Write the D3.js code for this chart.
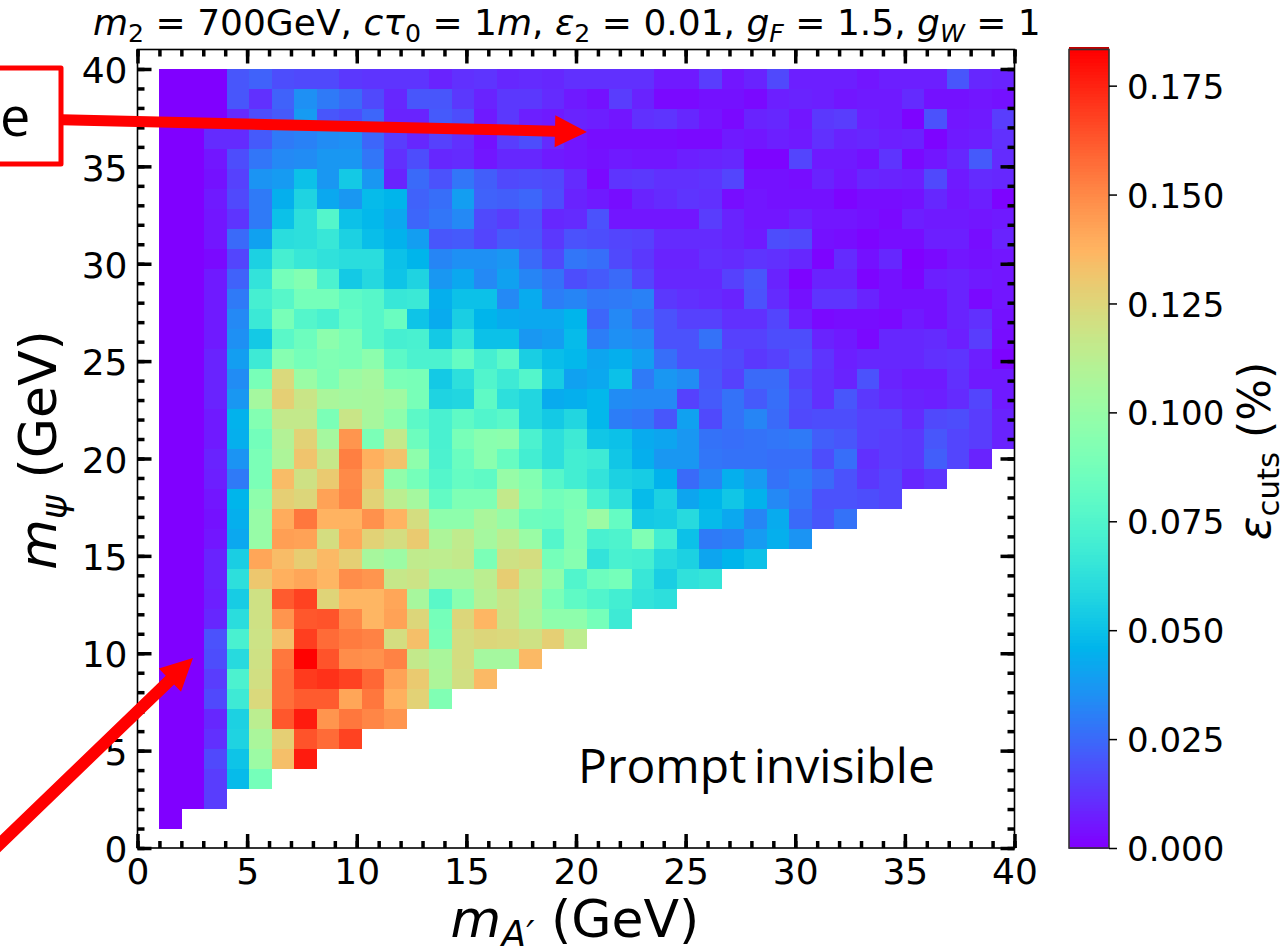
<!DOCTYPE html>
<html>
<head>
<meta charset="utf-8">
<style>
  html, body { margin: 0; padding: 0; background: #fff; overflow: hidden; }
  text { font-family: "DejaVu Sans", sans-serif; fill: #000; }
  .note { font-family: "Open Sans", sans-serif; }
</style>
</head>
<body>
<div id="svg-container"></div>
<script src="https://cdn.jsdelivr.net/npm/d3@7"></script>
<script>
//efficiency in units of 0.001 %, top row (m_psi near 40) first, lowest m_A' first
var cutsTop = [
  [0,0,0,20,23,18,17,17,13,12,12,12,8,11,12,9,10,9,11,11,11,11,6,6,14,5,8,17,7,7,7,5,7,7,7,20,9,8],
  [0,0,0,20,11,23,35,29,25,17,9,20,20,13,8,13,13,10,6,4,14,8,2,2,4,4,2,7,8,7,5,6,6,10,4,4,5,4],
  [0,0,0,10,18,21,38,20,18,24,8,8,21,18,6,13,7,6,8,7,5,11,12,9,5,2,8,9,5,13,14,7,6,1,19,5,6,14],
  [0,0,10,10,21,29,31,34,35,24,14,9,15,11,4,14,18,10,5,3,3,3,3,2,2,6,5,7,6,11,8,9,7,8,1,6,7,11],
  [0,0,5,18,28,33,34,37,37,28,11,18,9,10,5,9,9,6,5,4,6,5,5,7,8,9,1,1,16,6,6,4,12,2,5,9,21,10],
  [0,0,4,15,36,38,50,37,53,37,8,25,19,28,22,17,18,17,10,2,12,13,11,11,12,16,4,4,3,8,5,9,8,7,17,6,10,9],
  [0,0,6,17,29,44,57,42,37,48,46,23,26,39,23,22,24,18,8,6,3,8,10,12,11,3,5,4,4,4,1,3,3,4,9,5,7,1],
  [0,0,5,12,29,50,62,76,50,47,42,24,28,33,17,14,19,9,10,19,5,5,5,5,14,8,5,5,8,5,5,4,2,7,6,6,5,6],
  [0,0,5,25,40,61,62,66,56,49,45,39,20,21,16,21,20,13,19,18,16,15,10,10,10,8,6,18,17,4,3,1,3,3,7,7,3,8],
  [0,0,2,16,56,71,66,63,61,61,50,46,32,35,35,37,25,17,28,26,17,13,8,8,11,10,12,11,9,1,10,4,9,0,2,5,4,5],
  [0,0,6,23,64,88,93,73,53,59,51,57,37,42,33,40,32,27,18,21,25,16,9,9,9,15,20,8,1,8,8,1,4,1,7,8,6,5],
  [0,0,6,29,71,77,88,88,80,77,66,67,44,50,50,33,43,30,32,28,29,31,13,11,10,8,19,10,4,12,12,8,4,4,4,8,2,5],
  [0,0,6,33,67,89,76,72,82,77,84,51,43,55,46,43,42,42,46,24,33,26,19,15,15,11,11,16,7,2,3,3,2,6,4,8,11,4],
  [0,0,6,35,53,78,85,96,90,77,71,72,53,65,50,50,37,39,48,30,35,33,19,19,27,15,15,18,18,8,6,2,9,9,10,7,14,3],
  [0,0,8,39,68,94,88,92,90,96,79,73,73,82,71,79,55,49,47,41,44,39,26,19,19,17,13,15,19,12,7,9,9,9,11,12,7,1],
  [0,0,8,34,89,124,101,91,102,105,90,89,53,62,75,68,76,54,40,42,50,29,37,34,20,15,25,25,15,11,8,19,8,6,6,11,6,6],
  [0,0,8,37,105,128,118,107,105,106,103,89,57,58,80,62,58,43,44,47,34,33,33,15,21,27,21,26,18,11,20,13,10,8,7,10,16,6],
  [0,0,6,45,93,116,116,90,118,106,97,79,72,80,75,78,58,53,58,47,30,28,20,40,17,27,32,25,17,18,18,15,15,10,17,18,14,8],
  [0,0,6,44,87,110,127,105,147,90,116,85,72,89,95,96,73,62,68,52,50,43,41,37,27,26,27,28,29,22,20,15,14,13,20,16,14,8]
];

//rows below the top block lose two cells each, lower right stays empty
var cutsBottom = [
  [0,0,8,36,90,108,132,117,153,139,133,97,73,84,95,83,70,62,70,68,52,44,37,37,28,27,27,26,26,18,26,11,14,13,22,16,8],
  [0,0,7,29,90,135,120,130,150,133,98,88,76,82,80,100,93,77,70,64,56,54,45,25,32,44,38,27,30,25,19,13,16,9,12],
  [0,0,5,46,97,128,125,143,151,127,113,105,81,91,91,116,95,87,90,72,62,48,56,41,46,52,45,33,28,19,19,18,16],
  [0,0,4,44,100,140,155,138,138,148,138,122,97,97,107,100,85,84,92,102,82,53,54,60,48,42,32,43,25,20,27],
  [0,0,5,42,100,144,143,122,141,127,122,130,108,115,105,113,101,76,92,72,74,92,70,50,29,31,38,44,36],
  [0,0,8,55,142,135,129,136,128,106,102,115,114,116,90,120,122,88,94,64,72,71,60,56,41,46,50],
  [0,0,8,62,131,139,142,137,149,147,117,119,106,106,113,129,114,98,75,85,88,66,55,63,65],
  [0,0,7,54,120,162,168,126,137,137,142,106,78,95,111,118,110,90,80,75,70,64,62],
  [0,0,9,61,120,147,163,164,150,137,143,125,88,125,137,119,108,97,97,88,68],
  [0,0,19,72,119,134,169,158,154,152,122,134,90,122,125,124,120,128,114],
  [0,0,18,60,120,155,183,164,149,148,152,116,107,122,105,105,136],
  [0,0,14,73,121,157,170,172,168,159,143,130,108,121,136],
  [0,0,17,68,124,157,162,162,142,155,139,127,92],
  [0,0,9,56,113,163,177,147,155,151,147],
  [0,0,11,57,107,128,164,158,168],
  [0,0,17,51,102,134,177],
  [0,0,14,48,88],
  [0,0,14],
  [0]
];

var cutsRows = cutsTop.concat(cutsBottom);

var xMajor = [0, 5, 10, 15, 20, 25, 30, 35, 40];
var yMajor = [0, 5, 10, 15, 20, 25, 30, 35, 40];
var minorTicks = d3.range(0, 41);
var colorTicks = [0, 0.025, 0.05, 0.075, 0.1, 0.125, 0.15, 0.175];
var colorMax = 0.1833;
var gridLow = 1;
var gridHigh = 40;
var gridCount = 38;

//the annotations, ends given in axis units
var arrows = [
  { from: [-3.45, 37.39], to: [20.5, 36.77], width: 11 },
  { from: [-6.7, -0.25], to: [2.53, 9.76], width: 12 }
];

var svg = d3
  .select("#svg-container")
  .append("svg")
  .attr("width", 1285)
  .attr("height", 946)
  .style("display", "block");

var x = d3.scaleLinear().domain([0, 40]).range([137.5, 1014.5]);
var y = d3.scaleLinear().domain([0, 41]).range([848, 49.5]);
var cbY = d3.scaleLinear().domain([0, colorMax]).range([848, 49.5]);

//same formula as matplotlib's "rainbow" map
function rainbow(t) {
  var r = Math.min(1, Math.abs(2 * t - 0.5));
  var g = Math.sin(Math.PI * t);
  var b = Math.cos((Math.PI * t) / 2);
  return d3.rgb(r * 255, g * 255, b * 255).formatHex();
}

var edge = d3
  .scaleLinear()
  .domain([0, gridCount])
  .range([gridLow, gridHigh]);

//the heat map
var cells = [];
cutsRows.forEach(function (row, i) {
  row.forEach(function (v, j) {
    cells.push({ row: gridCount - 1 - i, col: j, value: v / 1000 });
  });
});

svg
  .append("g")
  .attr("class", "cells")
  .attr("shape-rendering", "crispEdges")
  .selectAll("rect")
  .data(cells)
  .enter()
  .append("rect")
  .attr("x", (d) => x(edge(d.col)))
  .attr("y", (d) => y(edge(d.row + 1)))
  .attr("width", (d) => x(edge(d.col + 1)) - x(edge(d.col)))
  .attr("height", (d) => y(edge(d.row)) - y(edge(d.row + 1)))
  .attr("fill", (d) => rainbow(d.value / colorMax));

//ticks on all four sides, pointing in
function drawAxis(axis, translate, tickValues, size, labels) {
  var g = svg
    .append("g")
    .attr("transform", translate)
    .call(
      axis
        .tickValues(tickValues)
        .tickSize(size)
        .tickPadding(10)
        .tickFormat(labels ? d3.format("d") : "")
    );
  g.select(".domain").remove();
  g.selectAll("line").attr("stroke", "#000").attr("stroke-width", size > 10 ? 4 : 3.5);
  g.selectAll("text").attr("font-size", 36);
  return g;
}

var bottomY = "translate(0,848)";
var topY = "translate(0,49.5)";
var leftX = "translate(137.5,0)";
var rightX = "translate(1014.5,0)";

drawAxis(d3.axisBottom(x), bottomY, minorTicks, -7, false);
drawAxis(d3.axisTop(x), topY, minorTicks, -7, false);
drawAxis(d3.axisLeft(y), leftX, minorTicks, -7, false);
drawAxis(d3.axisRight(y), rightX, minorTicks, -7, false);
drawAxis(d3.axisTop(x), topY, xMajor, -14, false);
drawAxis(d3.axisRight(y), rightX, yMajor, -14, false);

var xAxis = drawAxis(d3.axisBottom(x), bottomY, xMajor, -14, true);
xAxis.selectAll("text").attr("y", 10).attr("dy", "0.71em");
var yAxis = drawAxis(d3.axisLeft(y), leftX, yMajor, -14, true);
yAxis.selectAll("text").attr("x", -10).attr("dy", "0.38em");

svg
  .append("rect")
  .attr("x", 137.5)
  .attr("y", 49.5)
  .attr("width", 877)
  .attr("height", 798.5)
  .attr("fill", "none")
  .attr("stroke", "#000")
  .attr("stroke-width", 1.6);

//text with italics and subscripts, parts are [string, "i" italic, "s" subscript]
function rich(sel, parts, size) {
  var shift = 0;
  parts.forEach(function (p) {
    var sub = p[1].indexOf("s") >= 0;
    var drop = sub ? size * 0.2 : 0;
    sel
      .append("tspan")
      .attr("dy", drop - shift)
      .attr("font-size", sub ? size * 0.7 : size)
      .attr("font-style", p[1].indexOf("i") >= 0 ? "italic" : "normal")
      .text(p[0]);
    shift = drop;
  });
}

rich(
  svg.append("text").attr("x", 93).attr("y", 35),
  [
    ["m", "i"], ["2", "s"], [" = 700GeV, ", ""],
    ["cτ", "i"], ["0", "s"], [" = 1", ""], ["m", "i"], [", ", ""],
    ["ε", "i"], ["2", "s"], [" = 0.01, ", ""],
    ["g", "i"], ["F", "is"], [" = 1.5, ", ""],
    ["g", "i"], ["W", "is"], [" = 1", ""]
  ],
  36
);

rich(
  svg.append("text").attr("x", 575).attr("y", 937).attr("text-anchor", "middle"),
  [["m", "i"], ["A′", "is"], [" (GeV)", ""]],
  52
);

rich(
  svg
    .append("text")
    .attr("text-anchor", "middle")
    .attr("transform", "translate(56,450) rotate(-90)"),
  [["m", "i"], ["ψ", "is"], [" (GeV)", ""]],
  52
);

//the colour bar
var levels = d3.range(0, 256);
var cb = svg.append("g").attr("class", "colorbar");
cb.append("g")
  .attr("shape-rendering", "crispEdges")
  .selectAll("rect")
  .data(levels)
  .enter()
  .append("rect")
  .attr("x", 1069)
  .attr("width", 40)
  .attr("y", (d) => cbY(((d + 1) / 256) * colorMax))
  .attr("height", (d) => cbY((d / 256) * colorMax) - cbY(((d + 1) / 256) * colorMax) + 0.6)
  .attr("fill", (d) => rainbow(d / 255));

cb.append("rect")
  .attr("x", 1069)
  .attr("y", 47)
  .attr("width", 40)
  .attr("height", 2.5)
  .attr("fill", "#c00000");

cb.append("rect")
  .attr("x", 1069)
  .attr("y", 49.5)
  .attr("width", 40)
  .attr("height", 798.5)
  .attr("fill", "none")
  .attr("stroke", "#333")
  .attr("stroke-width", 1.6);

var cbAxis = svg
  .append("g")
  .attr("transform", "translate(1109,0)")
  .call(
    d3
      .axisRight(cbY)
      .tickValues(colorTicks)
      .tickSize(8)
      .tickPadding(10)
      .tickFormat(d3.format(".3f"))
  );
cbAxis.select(".domain").remove();
cbAxis.selectAll("line").attr("stroke", "#000").attr("stroke-width", 1.5);
cbAxis.selectAll("text").attr("font-size", 34).attr("dy", "0.37em");

rich(
  svg
    .append("text")
    .attr("text-anchor", "middle")
    .attr("transform", "translate(1270,451) rotate(-90)"),
  [["ε", "i"], ["cuts", "s"], [" (%)", ""]],
  44
);

//the labels and arrows on top of the plot
svg
  .append("text")
  .attr("class", "note")
  .attr("x", 578)
  .attr("y", 783)
  .attr("font-size", 48)
  .attr("word-spacing", -5)
  .text("Prompt invisible");

svg
  .append("path")
  .attr("d", "M-10,68 H61 V164 H-10")
  .attr("fill", "#fff")
  .attr("stroke", "#f00")
  .attr("stroke-width", 5)
  .attr("stroke-linejoin", "round");

svg
  .append("text")
  .attr("class", "note")
  .attr("x", 0)
  .attr("y", 136)
  .attr("font-size", 54)
  .text("e");

arrows.forEach(function (a) {
  var x0 = x(a.from[0]);
  var y0 = y(a.from[1]);
  var x1 = x(a.to[0]);
  var y1 = y(a.to[1]);
  var len = Math.hypot(x1 - x0, y1 - y0);
  var ux = (x1 - x0) / len;
  var uy = (y1 - y0) / len;
  var bx = x1 - ux * 32;
  var by = y1 - uy * 32;
  var w = a.width / 2;
  var pts = [
    [x0 - uy * w, y0 + ux * w],
    [bx - uy * w, by + ux * w],
    [bx - uy * 16, by + ux * 16],
    [x1, y1],
    [bx + uy * 16, by - ux * 16],
    [bx + uy * w, by - ux * w],
    [x0 + uy * w, y0 - ux * w]
  ];
  svg
    .append("polygon")
    .attr("points", pts.map((p) => p.join(",")).join(" "))
    .attr("fill", "#f00");
});
</script>
</body>
</html>
